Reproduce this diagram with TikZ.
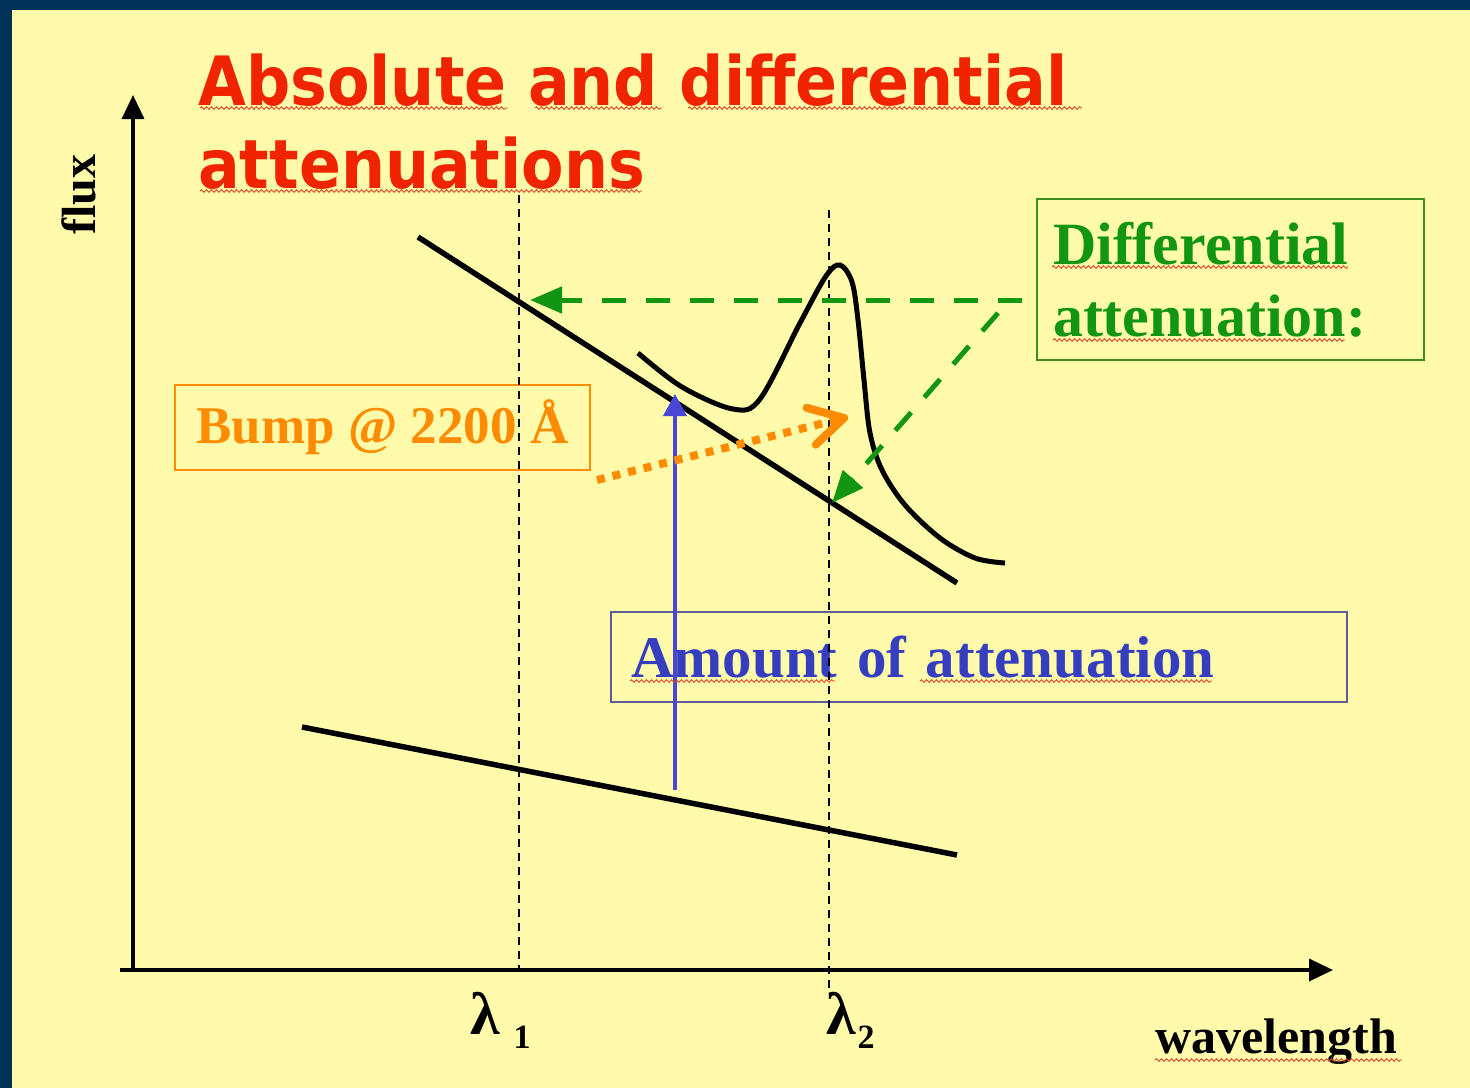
\documentclass[tikz,border=0pt]{standalone}
\usepackage{fontspec}
\setmainfont{Liberation Serif}
\newfontfamily\titlefont[FakeStretch=0.91]{DejaVu Sans}
\usepackage{tikz}
\usetikzlibrary{arrows.meta, positioning, decorations.pathmorphing}
\definecolor{slidebg}{RGB}{255, 251, 170}
\definecolor{slidenavy}{RGB}{0, 50, 88}
\definecolor{titlered}{RGB}{240, 36, 0}
\definecolor{diffgreen}{RGB}{18, 150, 18}
\definecolor{diffframe}{RGB}{60, 140, 30}
\definecolor{bumporange}{RGB}{255, 140, 0}
\definecolor{amountblue}{RGB}{52, 62, 190}
\definecolor{amountframe}{RGB}{95, 95, 150}
\definecolor{arrowblue}{RGB}{72, 72, 212}
\definecolor{spellred}{RGB}{225, 70, 40}

\begin{document}
\begin{tikzpicture}[x=1pt, y=-1pt,
    every node/.style={inner sep=0pt},
    titletext/.style={titlered, font=\titlefont\bfseries\fontsize{68}{80}\selectfont},
    axislabel/.style={font=\bfseries\fontsize{60}{72}\selectfont},
    plainline/.style={line width=5.5pt},
    guide/.style={line width=1.5pt, dash pattern=on 8pt off 6pt},
    axisarrow/.style={line width=3.5pt, -{Triangle[length=24pt, width=22pt]}},
    diffarrow/.style={diffgreen, line width=5pt, dash pattern=on 24pt off 20pt,
                      -{Triangle[length=32pt, width=26pt]}},
    spell/.style={decorate, decoration={snake, amplitude=1.3pt, segment length=5pt},
                  spellred, line width=0.9pt}]
  \useasboundingbox (0,0) rectangle (1470,1088);
  \fill[slidebg] (0,0) rectangle (1470,1088);
  \fill[slidenavy] (0,0) rectangle (1470,10);
  \fill[slidenavy] (0,0) rectangle (12,1088);

  % title
  \node[titletext, anchor=base west] (titleone) at (198,105) {Absolute and differential};
  \node[titletext, anchor=base west] (titletwo) at (198,188) {attenuations};

  % boxes
  \node[draw=bumporange, line width=2pt, text=bumporange,
        font=\bfseries\fontsize{53}{60}\selectfont,
        minimum width=415pt, minimum height=85pt] (bump) at (382.5,427.5) {Bump @ 2200 Å};
  \node[draw=diffframe, line width=2pt, text=diffgreen, anchor=north west,
        font=\bfseries\fontsize{60}{72}\selectfont, align=left,
        text width=355pt, inner xsep=16pt, minimum height=161pt] (diffbox) at (1036,198)
        {Differential\\attenuation:};
  \node[draw=amountframe, line width=2pt, text=amountblue, anchor=north west,
        font=\bfseries\fontsize{59}{70}\selectfont, align=left,
        text width=696pt, inner xsep=20pt, minimum height=90pt] (amount) at (610,611)
        {Amount of attenuation};

  % axes
  \coordinate (origin) at (133,970);
  \coordinate (xstart) at (120,970);
  \coordinate (xend) at (1333,970);
  \coordinate (ytop) at (133,95);
  \draw[axisarrow] (origin) -- (ytop);
  \draw[axisarrow] (xstart) -- (xend);
  \node[font=\bfseries\fontsize{48}{56}\selectfont, rotate=90, anchor=base west] (fluxlabel) at (95,235) {flux};
  \node[font=\bfseries\fontsize{50}{60}\selectfont, anchor=base west] (wavelabel) at (1155,1053) {wavelength};
  \node[axislabel, anchor=base west] (lamone) at (470,1034)
        {λ\kern14pt\lower14pt\hbox{\fontsize{34}{34}\selectfont 1}};
  \node[axislabel, anchor=base west] (lamtwo) at (826,1034)
        {λ\kern2pt\lower14pt\hbox{\fontsize{34}{34}\selectfont 2}};

  % wavelength guides
  \draw[guide] (519,195) -- (519,970);
  \draw[guide] (829,210) -- (829,990);

  % attenuated / unattenuated spectra
  \coordinate (upstart) at (418,237);
  \coordinate (upend) at (957,583);
  \coordinate (lowstart) at (302,727);
  \coordinate (lowend) at (957,855);
  \draw[plainline] (upstart) -- (upend);
  \draw[plainline] (lowstart) -- (lowend);
  \draw[line width=5pt] plot[smooth, tension=0.55] coordinates {
    (638,353) (682,387) (733,409) (760,399) (800,323) (826,276) (840,265)
    (852,282) (858,320) (864,380) (870,433) (882,470) (905,505) (940,538)
    (975,558) (1005,563)};

  % arrows
  \coordinate (hstart) at (1022,300);
  \coordinate (hitone) at (530,300);
  \coordinate (dstart) at (998,313);
  \coordinate (hittwo) at (832,503);
  \draw[diffarrow] (hstart) -- (hitone);
  \draw[diffarrow] (dstart) -- (hittwo);

  \coordinate (lowpt) at (675,790);
  \coordinate (uppt) at (675,394);
  \draw[arrowblue, line width=4pt, -{Triangle[length=22pt, width=23pt]}] (lowpt) -- (uppt);

  \coordinate (bumptail) at (597,480);
  \coordinate (bumptip) at (848,417);
  \draw[bumporange, line width=8pt, dash pattern=on 8pt off 8pt,
        -{Straight Barb[length=34pt, width=38pt, round]}] (bumptail) -- (bumptip);

  % spelling squiggles
  \foreach \xa/\xb/\yy in {200/508/108, 535/662/108, 688/1082/108, 200/642/191,
                           1052/1348/267, 1053/1345/340, 630/835/681, 920/1212/681,
                           1155/1402/1060}
    \draw[spell] (\xa,\yy) -- (\xb,\yy);
\end{tikzpicture}
\end{document}
